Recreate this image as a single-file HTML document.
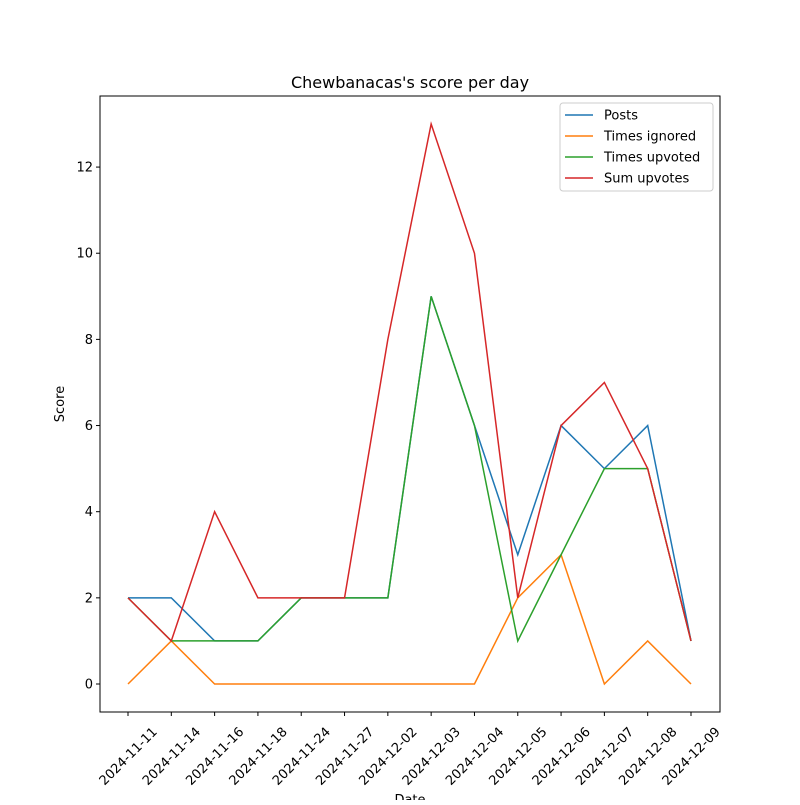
<!DOCTYPE html>
<html><head><meta charset="utf-8"><style>
body{margin:0;background:#fff;}
svg text{font-family:"DejaVu Sans","Liberation Sans",sans-serif;}
</style></head><body>
<svg id="chart" width="800" height="800" xmlns="http://www.w3.org/2000/svg">
<rect width="800" height="800" fill="#fff"/>
<text x="410" y="88" font-size="16" text-anchor="middle">Chewbanacas's score per day</text>
<text x="64" y="404" font-size="13" text-anchor="middle" transform="rotate(-90 64 404)">Score</text>
<text x="410" y="804" font-size="13" text-anchor="middle">Date</text>
<g id="plot"></g>
<rect x="100" y="96" width="620" height="616" fill="none" stroke="#000" stroke-width="1"/>
<g>
<rect x="560" y="103" width="153" height="88" fill="#fff" stroke="#ccc" rx="3"/>
</g>
</svg>
<script>
const categories=["2024-11-11","2024-11-14","2024-11-16","2024-11-18","2024-11-24","2024-11-27","2024-12-02","2024-12-03","2024-12-04","2024-12-05","2024-12-06","2024-12-07","2024-12-08","2024-12-09"];
const posts=[2,2,1,1,2,2,2,9,6,3,6,5,6,1];
const timesIgnored=[0,1,0,0,0,0,0,0,0,2,3,0,1,0];
const timesUpvoted=[2,1,1,1,2,2,2,9,6,1,3,5,5,1];
const sumUpvotes=[2,1,4,2,2,2,8,13,10,2,6,7,5,1];
const yTicks=[0,2,4,6,8,10,12];
const seriesNames=["Posts","Times ignored","Times upvoted","Sum upvotes"];
const NS="http://www.w3.org/2000/svg";
const svg=document.getElementById('chart');
const plot=document.getElementById('plot');
const yMin=-0.65,yMax=13.65,top_=96,bot=712,left=100,right=720;
const x0=128,x1=691;
function xs(i){return x0+(x1-x0)*i/(categories.length-1);}
function ys(v){return bot-(v-yMin)/(yMax-yMin)*(bot-top_);}
function mk(t,a){const e=document.createElementNS(NS,t);for(const k in a)e.setAttribute(k,a[k]);return e;}
yTicks.forEach(v=>{
  const g=mk('g',{});
  
  
  g.appendChild(mk('line',{x1:left-4,x2:left,y1:ys(v),y2:ys(v),stroke:'#000'}));
  const t=mk('text',{x:left-7,y:ys(v)+4.5,'font-size':13,'text-anchor':'end'});t.textContent=v;g.appendChild(t);
  plot.appendChild(g);
});
categories.forEach((c,i)=>{
  const g=mk('g',{});
  
  
  g.appendChild(mk('line',{x1:xs(i),x2:xs(i),y1:bot,y2:bot+4,stroke:'#000'}));
  const cx=xs(i),cy=bot+44;
  const t=mk('text',{x:cx,y:cy+4.5,'font-size':13,'text-anchor':'middle',transform:`rotate(-45 ${cx} ${cy})`});t.textContent=c;g.appendChild(t);
  plot.appendChild(g);
});
const colors=['#1f77b4','#ff7f0e','#2ca02c','#d62728'];
[posts,timesIgnored,timesUpvoted,sumUpvotes].forEach((d,si)=>{
  const p=mk('polyline',{points:d.map((v,i)=>xs(i)+','+ys(v)).join(' '),fill:'none',stroke:colors[si],'stroke-width':1.5});
  
  
  plot.appendChild(p);
  const ly=115+si*21;
  const g=mk('g',{});
  
  
  g.appendChild(mk('line',{x1:565,x2:593,y1:ly,y2:ly,stroke:colors[si],'stroke-width':1.5}));
  const t=mk('text',{x:604,y:ly+4.5,'font-size':13});t.textContent=seriesNames[si];g.appendChild(t);
  svg.appendChild(g);
});
</script>
</body></html>
